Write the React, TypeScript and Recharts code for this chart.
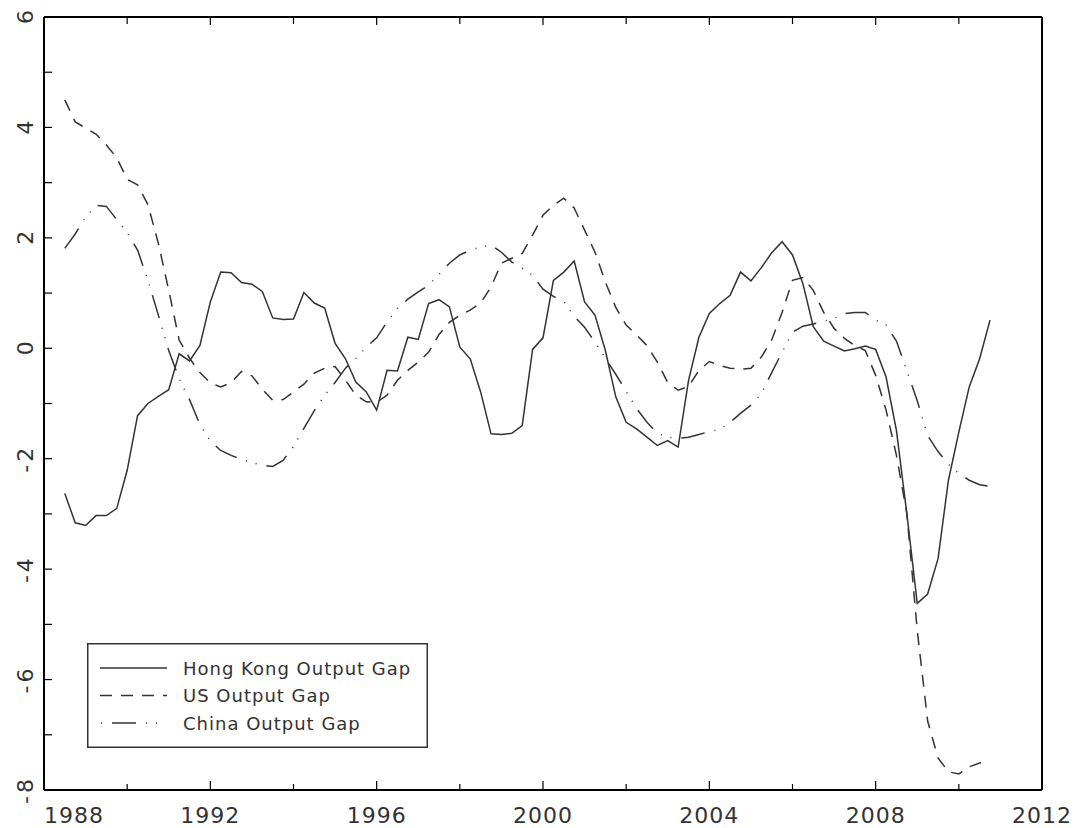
import { LineChart, Line, XAxis, YAxis, Legend } from "recharts";

// quarterly observations, 1988Q3 .. 2010Q4
const quarters = [
  "1988Q3", "1988Q4",
  "1989Q1", "1989Q2", "1989Q3", "1989Q4",
  "1990Q1", "1990Q2", "1990Q3", "1990Q4",
  "1991Q1", "1991Q2", "1991Q3", "1991Q4",
  "1992Q1", "1992Q2", "1992Q3", "1992Q4",
  "1993Q1", "1993Q2", "1993Q3", "1993Q4",
  "1994Q1", "1994Q2", "1994Q3", "1994Q4",
  "1995Q1", "1995Q2", "1995Q3", "1995Q4",
  "1996Q1", "1996Q2", "1996Q3", "1996Q4",
  "1997Q1", "1997Q2", "1997Q3", "1997Q4",
  "1998Q1", "1998Q2", "1998Q3", "1998Q4",
  "1999Q1", "1999Q2", "1999Q3", "1999Q4",
  "2000Q1", "2000Q2", "2000Q3", "2000Q4",
  "2001Q1", "2001Q2", "2001Q3", "2001Q4",
  "2002Q1", "2002Q2", "2002Q3", "2002Q4",
  "2003Q1", "2003Q2", "2003Q3", "2003Q4",
  "2004Q1", "2004Q2", "2004Q3", "2004Q4",
  "2005Q1", "2005Q2", "2005Q3", "2005Q4",
  "2006Q1", "2006Q2", "2006Q3", "2006Q4",
  "2007Q1", "2007Q2", "2007Q3", "2007Q4",
  "2008Q1", "2008Q2", "2008Q3", "2008Q4",
  "2009Q1", "2009Q2", "2009Q3", "2009Q4",
  "2010Q1", "2010Q2", "2010Q3", "2010Q4",
];

const hongKongGap = [
  -2.63, -3.16, -3.21, -3.03, -3.03, -2.9, -2.21, -1.22, -1.0, -0.87,
  -0.75, -0.1, -0.23, 0.05, 0.84, 1.38, 1.37, 1.19, 1.16, 1.03,
  0.55, 0.52, 0.53, 1.01, 0.82, 0.73, 0.09, -0.19, -0.61, -0.79,
  -1.12, -0.4, -0.41, 0.2, 0.16, 0.81, 0.88, 0.75, 0.02, -0.19,
  -0.79, -1.55, -1.56, -1.54, -1.4, -0.02, 0.19, 1.23, 1.38, 1.58,
  0.84, 0.6, -0.04, -0.88, -1.34, -1.46, -1.61, -1.76, -1.67, -1.79,
  -0.58, 0.2, 0.63, 0.81, 0.96, 1.38, 1.22, 1.46, 1.73, 1.93,
  1.69, 1.17, 0.39, 0.13, 0.04, -0.05, -0.01, 0.04, -0.02, -0.52,
  -1.49, -3.0, -4.62, -4.45, -3.81, -2.39, -1.52, -0.7, -0.19, 0.51,
];

const usGap = [
  4.5, 4.1, 3.99, 3.88, 3.68, 3.45, 3.06, 2.96, 2.6, 1.9,
  1.05, 0.15, -0.18, -0.44, -0.63, -0.7, -0.62, -0.42, -0.5, -0.74,
  -0.94, -0.93, -0.79, -0.65, -0.45, -0.36, -0.33, -0.58, -0.85, -0.97,
  -0.98, -0.85, -0.58, -0.4, -0.25, -0.07, 0.25, 0.47, 0.6, 0.69,
  0.82, 1.11, 1.54, 1.63, 1.72, 2.05, 2.41, 2.59, 2.72, 2.54,
  2.14, 1.74, 1.2, 0.74, 0.42, 0.24, 0.05, -0.25, -0.62, -0.76,
  -0.69, -0.4, -0.24, -0.31, -0.36, -0.38, -0.36, -0.16, 0.15, 0.65,
  1.23, 1.28, 1.05, 0.65, 0.36, 0.18, 0.05, -0.04, -0.49, -1.12,
  -1.94, -2.99, -5.11, -6.75, -7.42, -7.67, -7.71, -7.58, -7.51, -7.5,
];

const chinaGap = [
  1.81, 2.07, 2.37, 2.59, 2.57, 2.33, 2.1, 1.78, 1.23, 0.6,
  -0.04, -0.55, -0.93, -1.38, -1.68, -1.85, -1.94, -2.01, -2.07, -2.12,
  -2.14, -2.03, -1.78, -1.45, -1.13, -0.85, -0.62, -0.36, -0.18, 0.02,
  0.19, 0.48, 0.72, 0.89, 1.02, 1.14, 1.34, 1.54, 1.69, 1.78,
  1.83, 1.87, 1.74, 1.56, 1.45, 1.32, 1.07, 0.94, 0.85, 0.58,
  0.38, 0.11, -0.18, -0.47, -0.78, -1.09, -1.34, -1.54, -1.61, -1.63,
  -1.61, -1.56, -1.51, -1.47, -1.34, -1.18, -1.03, -0.82, -0.44, -0.07,
  0.29, 0.4, 0.44, 0.49, 0.54, 0.63, 0.65, 0.65, 0.51, 0.42,
  0.13, -0.41, -0.95, -1.58, -1.87, -2.1, -2.27, -2.39, -2.47, -2.5,
];

const xTicks = [1988, 1990, 1992, 1994, 1996, 1998, 2000, 2002, 2004, 2006, 2008, 2010, 2012];
const xLabels = [1988, 1992, 1996, 2000, 2004, 2008, 2012];
const yTicks = [-8, -7, -6, -5, -4, -3, -2, -1, 0, 1, 2, 3, 4, 5, 6];
const yLabels = [-8, -6, -4, -2, 0, 2, 4, 6];

const series = [
  { key: "hk", name: "Hong Kong Output Gap", dash: undefined, legendOffset: 0 },
  { key: "us", name: "US Output Gap", dash: "12 9", legendOffset: 0 },
  { key: "cn", name: "China Output Gap", dash: "24 10 1 9 1 10", legendOffset: 43 },
];

const toYear = (q: string) => Number(q.slice(0, 4)) + (Number(q.slice(5)) - 1) / 4;

const data = quarters.map((q, i) => ({
  t: toYear(q),
  hk: hongKongGap[i],
  us: usGap[i],
  cn: chinaGap[i],
}));

const INK = "#333";
const FONT = "'DejaVu Sans', sans-serif";
const frame = { stroke: "#000", strokeWidth: 2 };

function BottomTick(props: any) {
  const { x, y, payload } = props;
  const v = payload.value;
  const major = xLabels.includes(v);
  const first = v === xLabels[0];
  return (
    <g>
      <line x1={x} x2={x} y1={y} y2={y - (major ? 9 : 6)} stroke="#000" strokeWidth={1.2} />
      {major && (
        <text
          x={x}
          y={y + 33}
          textAnchor={first ? "start" : "middle"}
          fontFamily={FONT}
          fontSize={22}
          letterSpacing={1}
          fill={INK}
        >
          {v}
        </text>
      )}
    </g>
  );
}

function TopTick(props: any) {
  const { x, y, payload } = props;
  const major = xLabels.includes(payload.value);
  return <line x1={x} x2={x} y1={y} y2={y + (major ? 8 : 7)} stroke="#000" strokeWidth={1.2} />;
}

function LeftTick(props: any) {
  const { x, y, payload } = props;
  const v = payload.value;
  const major = yLabels.includes(v);
  const tx = x - 11;
  return (
    <g>
      <line x1={x} x2={x + 8} y1={y} y2={y} stroke="#000" strokeWidth={1.2} />
      {major && (
        <text
          x={tx}
          y={y}
          transform={`rotate(-90 ${tx} ${y})`}
          textAnchor="middle"
          fontFamily={FONT}
          fontSize={22}
          letterSpacing={v < 0 ? 3 : 0}
          fill={INK}
        >
          {String(v)}
        </text>
      )}
    </g>
  );
}

function RightTick(props: any) {
  const { x, y } = props;
  return <line x1={x} x2={x - 8} y1={y} y2={y} stroke="#000" strokeWidth={1.2} />;
}

function LegendBox() {
  return (
    <svg width={341} height={105} style={{ display: "block" }}>
      <rect x={0.75} y={0.75} width={339.5} height={103.5} fill="#fff" stroke={INK} strokeWidth={1.5} />
      {series.map((s, i) => {
        const ly = 25 + i * 27.5;
        return (
          <g key={s.key}>
            <line
              x1={13}
              x2={80}
              y1={ly}
              y2={ly}
              stroke={INK}
              strokeWidth={1.5}
              strokeDasharray={s.dash}
              strokeDashoffset={s.legendOffset}
            />
            <text x={96} y={ly + 6.5} fontFamily={FONT} fontSize={18} letterSpacing={1} fill={INK}>
              {s.name}
            </text>
          </g>
        );
      })}
    </svg>
  );
}

export default function App() {
  return (
    <div style={{ position: "absolute", left: 0, top: 0, background: "#fff" }}>
      <LineChart width={1079} height={828} data={data} margin={{ top: 7, right: 27, bottom: 0, left: 0 }}>
        <XAxis
          xAxisId="b"
          dataKey="t"
          type="number"
          domain={[1988, 2012]}
          ticks={xTicks}
          interval={0}
          height={38}
          tickSize={0}
          tickMargin={0}
          tickLine={false}
          axisLine={frame}
          tick={<BottomTick />}
        />
        <XAxis
          xAxisId="t"
          orientation="top"
          dataKey="t"
          type="number"
          domain={[1988, 2012]}
          ticks={xTicks}
          interval={0}
          height={10}
          tickSize={0}
          tickMargin={0}
          tickLine={false}
          axisLine={frame}
          tick={<TopTick />}
        />
        <YAxis
          yAxisId="l"
          type="number"
          domain={[-8, 6]}
          ticks={yTicks}
          interval={0}
          width={44}
          tickSize={0}
          tickMargin={0}
          tickLine={false}
          axisLine={frame}
          tick={<LeftTick />}
        />
        <YAxis
          yAxisId="r"
          orientation="right"
          type="number"
          domain={[-8, 6]}
          ticks={yTicks}
          interval={0}
          width={10}
          tickSize={0}
          tickMargin={0}
          tickLine={false}
          axisLine={frame}
          tick={<RightTick />}
        />
        <Legend
          layout="vertical"
          align="center"
          verticalAlign="middle"
          wrapperStyle={{ left: 87, top: 643, width: 341, height: 105 }}
          content={() => <LegendBox />}
        />
        {series.map((s) => (
          <Line
            key={s.key}
            xAxisId="b"
            yAxisId="l"
            type="linear"
            dataKey={s.key}
            name={s.name}
            stroke={INK}
            strokeWidth={1.5}
            strokeDasharray={s.dash}
            dot={false}
            activeDot={false}
            isAnimationActive={false}
          />
        ))}
      </LineChart>
    </div>
  );
}
